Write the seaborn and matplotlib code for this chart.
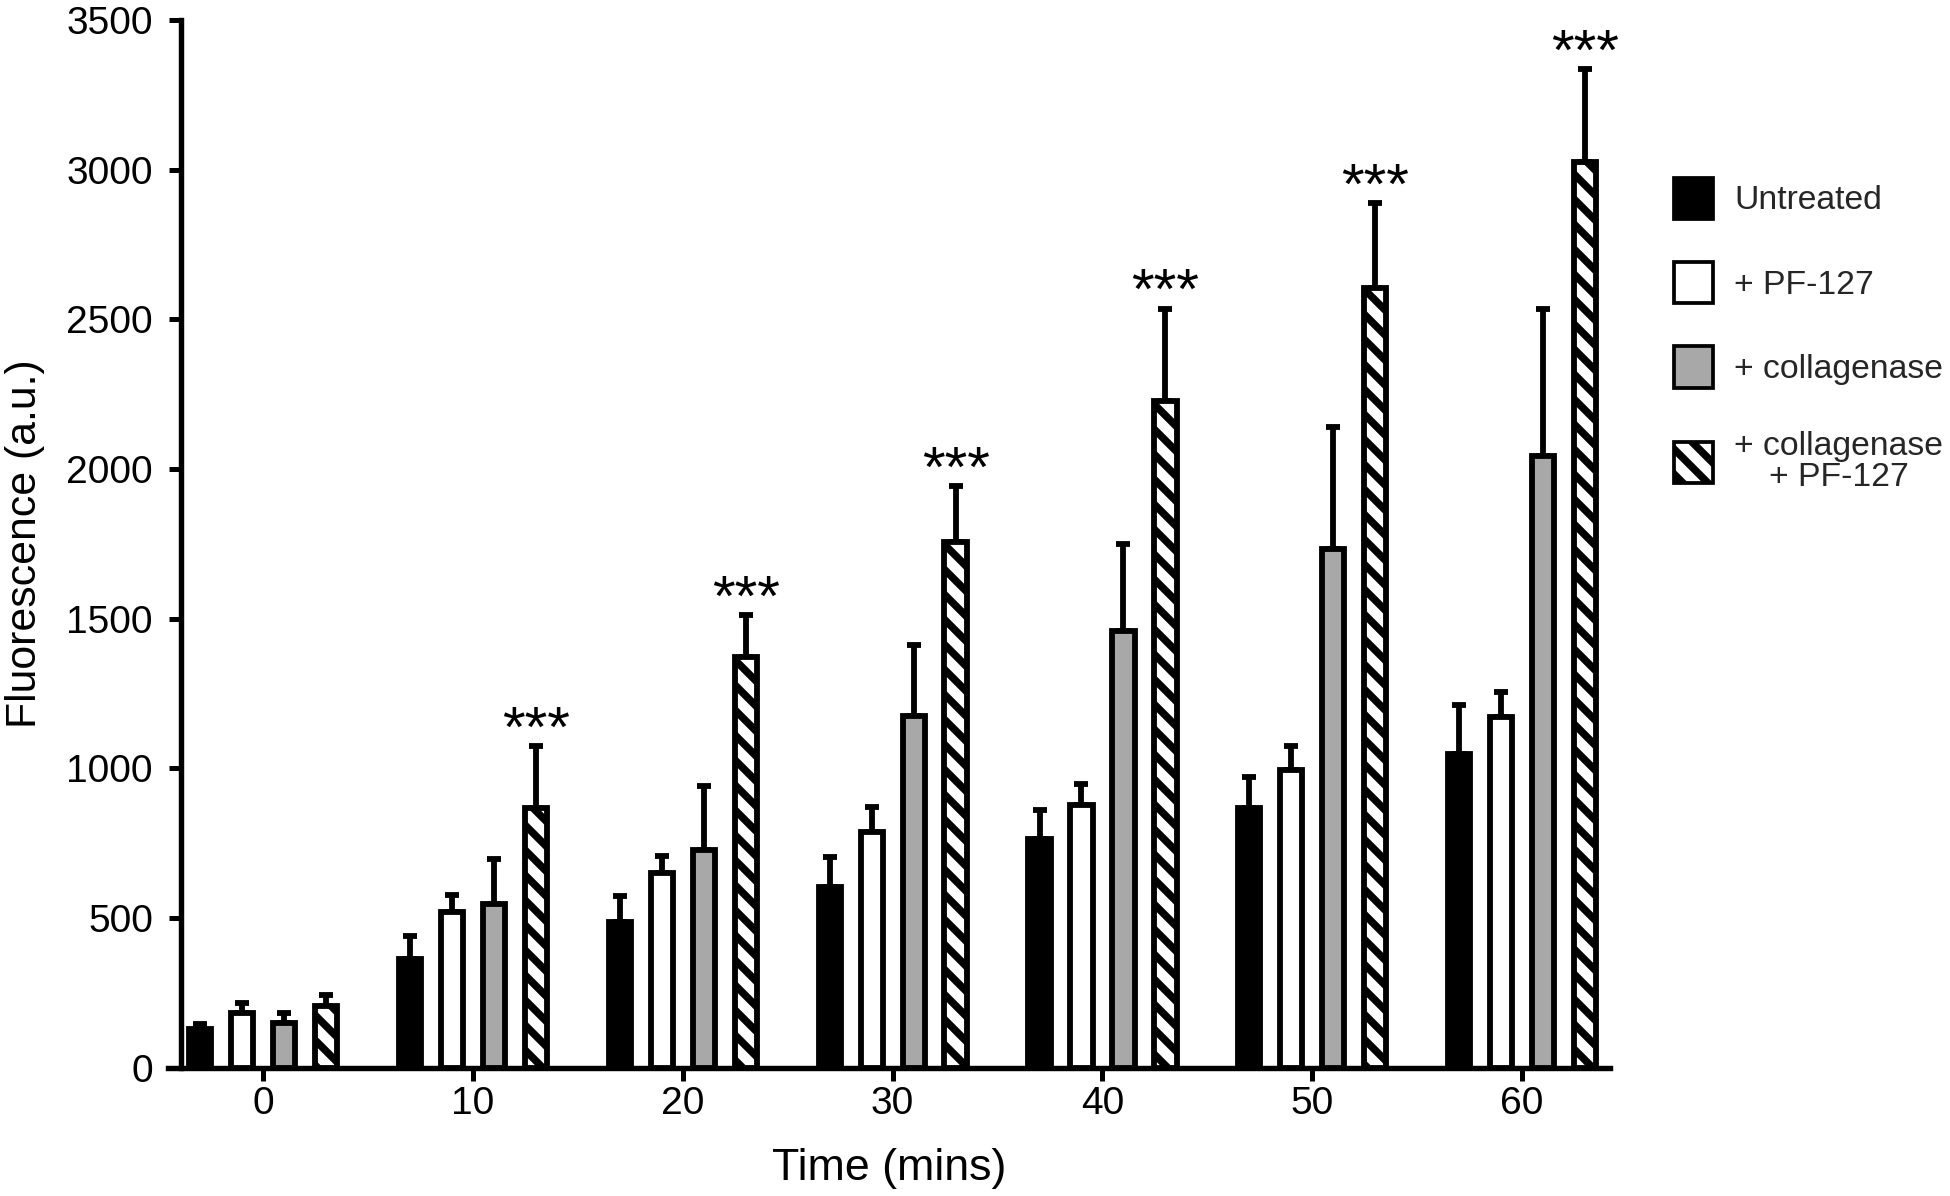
import numpy as np
import pandas as pd
import matplotlib
matplotlib.use("Agg")
import matplotlib.pyplot as plt
import seaborn as sns
from matplotlib.patches import Patch

# ---------------- data ----------------
time_labels = ["0", "10", "20", "30", "40", "50", "60"]
groups = ["Untreated", "+ PF-127", "+ collagenase", "+ collagenase + PF-127"]
legend_labels = ["Untreated", "+ PF-127", "+ collagenase", "+ collagenase\n+ PF-127"]

untreated = [127, 361, 485, 604, 763, 866, 1049]
untreated_err = [18, 80, 87, 100, 97, 103, 162]
pf127 = [183, 518, 650, 787, 877, 995, 1172]
pf127_err = [34, 59, 56, 83, 71, 80, 84]
collagenase = [148, 546, 728, 1175, 1458, 1732, 2044]
collagenase_err = [33, 149, 211, 238, 290, 408, 491]
coll_pf = [204, 866, 1372, 1756, 2226, 2604, 3027]
coll_pf_err = [39, 207, 139, 186, 308, 283, 308]
significance = ["", "***", "***", "***", "***", "***", "***"]

face_colors = ["#000000", "#ffffff", "#a8a8a8", "#ffffff"]
hatches = ["", "", "", "\\\\"]

means = [untreated, pf127, collagenase, coll_pf]
errs = [untreated_err, pf127_err, collagenase_err, coll_pf_err]

rows = []
for g, vals in zip(groups, means):
    for t, v in zip(time_labels, vals):
        rows.append({"time": t, "group": g, "value": v})
df = pd.DataFrame(rows)

# ---------------- style ----------------
sns.set_style("ticks")
plt.rcParams["font.family"] = ["Liberation Sans", "DejaVu Sans"]
plt.rcParams["hatch.linewidth"] = 3.6
plt.rcParams["hatch.color"] = "black"

DPI = 150
fig = plt.figure(figsize=(1950 / DPI, 1196 / DPI), dpi=DPI)
ax = fig.add_axes([0.08615, 0.10744, 0.73949, 0.87584])

sns.barplot(
    data=df, x="time", y="value", hue="group",
    order=time_labels, hue_order=groups,
    palette=dict(zip(groups, face_colors)),
    edgecolor="black", linewidth=2.8,
    width=0.8, gap=0.47, errorbar=None, legend=False,
    ax=ax, zorder=3,
)

for cont, h in zip(ax.containers, hatches):
    if h:
        for p in cont:
            p.set_hatch(h)

# error bars (upper only) at the bar positions produced by seaborn
for cont, e in zip(ax.containers, errs):
    xs = np.array([p.get_x() + p.get_width() / 2 for p in cont])
    ys = np.array([p.get_height() for p in cont])
    ax.errorbar(xs, ys, yerr=[np.zeros(len(e)), np.array(e)], fmt="none",
                ecolor="black", elinewidth=2.8, capsize=3.4, capthick=2.8,
                zorder=2)

# significance stars above the last group
last = ax.containers[3]
for p, e, s in zip(last, coll_pf_err, significance):
    if s:
        x = p.get_x() + p.get_width() / 2
        ax.annotate(s, (x, p.get_height() + e), xytext=(0, 0),
                    textcoords="offset points", ha="center", va="baseline",
                    fontsize=28, color="black")

# ---------------- axes ----------------
ax.set_ylim(0, 3500)
ax.set_yticks(range(0, 3501, 500))
ax.set_xlim(-0.454, 6.419)
ax.spines["left"].set_position(("data", -0.392))
for side in ["top", "right"]:
    ax.spines[side].set_visible(False)
for side in ["left", "bottom"]:
    ax.spines[side].set_linewidth(2.6)
    ax.spines[side].set_color("black")

ax.tick_params(axis="both", labelsize=18.7, width=2.4, length=6,
               color="black", labelcolor="black")
ax.tick_params(axis="x", pad=3)
ax.tick_params(axis="y", pad=7.5)

ax.set_xlabel("Time (mins)", fontsize=21.5, labelpad=12.5, color="black")
ax.set_ylabel("Fluorescence (a.u.)", fontsize=20.5, labelpad=10, color="black")

# ---------------- legend ----------------
handles = [Patch(facecolor=c, edgecolor="black", linewidth=1.8, hatch=h)
           for c, h in zip(face_colors, hatches)]
leg = fig.legend(handles, legend_labels, loc="upper left",
                 bbox_to_anchor=(0.8585, 0.8515), frameon=False,
                 fontsize=16.2, handlelength=1.16, handleheight=1.5,
                 handletextpad=0.62, labelspacing=1.28, borderpad=0,
                 borderaxespad=0)
for t in leg.get_texts():
    t.set_multialignment("center")
leg.get_texts()[-1].set_linespacing(1.0)

fig.savefig("out.png", dpi=DPI)
